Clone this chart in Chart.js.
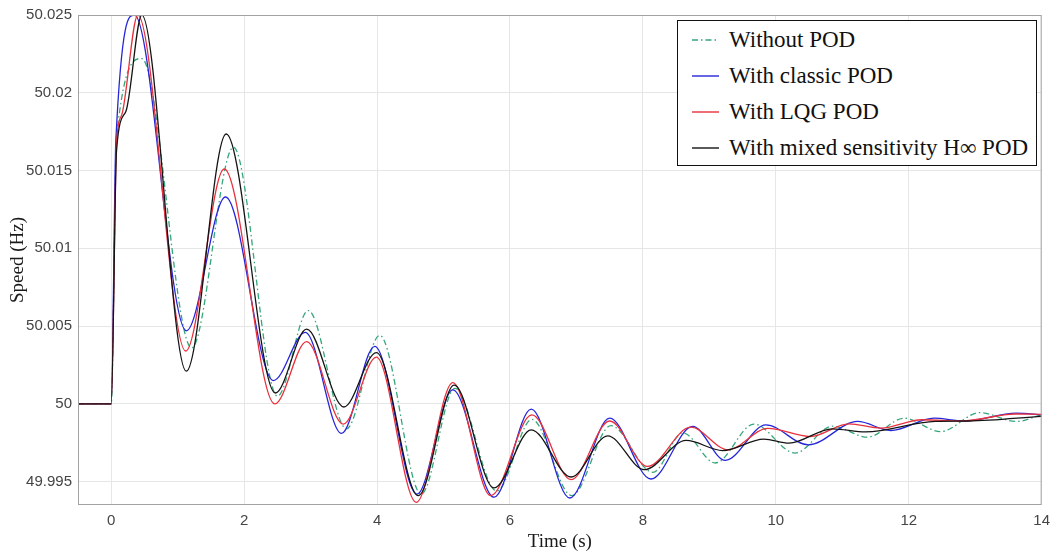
<!DOCTYPE html>
<html lang="en">
<head>
    <meta charset="UTF-8">
    <title>Speed response</title>
    <script src="https://cdn.jsdelivr.net/npm/chart.js"></script>
    <style>
        body {
            margin: 0;
            padding: 0;
            background-color: #ffffff;
        }
        .wrap {
            position: relative;
            width: 1057px;
            height: 553px;
        }
        .legend {
            position: absolute;
            left: 677px;
            top: 20px;
            width: 358px;
            height: 144px;
            border: 1.5px solid #111;
            background: #fff;
            font-family: "Liberation Serif", "Times New Roman", serif;
            font-size: 23px;
            color: #111;
        }
        .legend .row {
            position: absolute;
            left: 14px;
            height: 26px;
            line-height: 26px;
            white-space: nowrap;
        }
        .legend svg {
            vertical-align: middle;
            margin-right: 10px;
            margin-top: -4px;
        }
    </style>
</head>
<body>
    <div class="wrap">
        <canvas id="speedChart"></canvas>
        <div class="legend" id="legend"></div>
    </div>

    <script>
        // values (time in s, speed in Hz)
        const seriesNames = ['Without POD', 'With classic POD', 'With LQG POD', 'With mixed sensitivity H\u221e POD'];

        const tWithout = [-0.5, 0, 0.08, 0.46, 1.21, 1.84, 2.5, 2.965, 3.54, 4.04, 4.665, 5.17, 5.8, 6.33, 6.93, 7.52, 8.15, 8.6, 9.09, 9.67, 10.29, 10.85, 11.38, 11.93, 12.48, 13.07, 13.62, 14];
        const vWithout = [50, 50, 50.0172, 50.0222, 50.0036, 50.0165, 50.0005, 50.006, 49.9984, 50.0044, 49.9942, 50.001, 49.9944, 49.999, 49.9941, 49.9986, 49.9956, 49.99814, 49.9962, 49.9987, 49.99684, 49.99857, 49.99786, 49.99908, 49.99822, 49.99944, 49.99887, 49.9993];

        const tClassic = [-0.5, 0, 0.07, 0.35, 1.13, 1.72, 2.44, 2.92, 3.465, 3.965, 4.6, 5.14, 5.76, 6.32, 6.9, 7.5, 8.12, 8.75, 9.24, 9.85, 10.49, 11.23, 11.73, 12.38, 12.83, 13.62, 14];
        const vClassic = [50, 50, 50.017, 50.025, 50.0047, 50.0133, 50.0015, 50.0046, 49.9981, 50.0037, 49.9942, 50.0009, 49.994, 49.99966, 49.99395, 49.99908, 49.99517, 49.99855, 49.99637, 49.99865, 49.99737, 49.99887, 49.99829, 49.99908, 49.9989, 49.9994, 49.9993];

        const tLqg = [-0.5, 0, 0.08, 0.16, 0.4, 1.12, 1.7, 2.46, 2.94, 3.49, 3.99, 4.59, 5.14, 5.71, 6.33, 6.92, 7.5, 8.07, 8.72, 9.28, 9.88, 10.52, 11.1, 11.58, 12.2, 12.8, 13.6, 14];
        const vLqg = [50, 50, 50.0168, 50.0186, 50.025, 50.0034, 50.0151, 50.0, 50.004, 49.9987, 50.003, 49.99367, 50.00137, 49.9941, 49.9993, 49.99513, 49.9989, 49.99598, 49.9985, 49.99705, 49.99843, 49.9979, 49.99872, 49.99844, 49.99898, 49.9989, 49.99935, 49.99933];

        const tHinf = [-0.5, 0, 0.08, 0.22, 0.46, 1.13, 1.73, 2.47, 2.94, 3.5, 3.99, 4.62, 5.16, 5.76, 6.32, 6.92, 7.47, 8.02, 8.65, 9.2, 9.82, 10.2, 10.85, 11.35, 12.4, 12.9, 14];
        const vHinf = [50, 50, 50.0163, 50.0188, 50.025, 50.0021, 50.01735, 50.0007, 50.0048, 49.9998, 50.0033, 49.9941, 50.0012, 49.9946, 49.99833, 49.9953, 49.99795, 49.99577, 49.99765, 49.997, 49.99774, 49.99748, 49.9984, 49.9982, 49.99888, 49.9989, 49.9992];

        const xTicks = [0, 2, 4, 6, 8, 10, 12, 14];
        const yTicks = [49.995, 50, 50.005, 50.01, 50.015, 50.02, 50.025];

        const colors = ['#35a77a', '#2626d9', '#e8313c', '#141414'];
        const dashes = [[6, 3, 1.5, 3], [], [], []];

        function toPoints(ts, vs) {
            return ts.map((t, i) => ({ x: t, y: vs[i] }));
        }

        const allData = [
            toPoints(tWithout, vWithout),
            toPoints(tClassic, vClassic),
            toPoints(tLqg, vLqg),
            toPoints(tHinf, vHinf)
        ];

        // box round the plot area, like the matlab axes
        const frame = {
            id: 'frame',
            afterDraw(chart) {
                const a = chart.chartArea;
                const ctx = chart.ctx;
                ctx.save();
                ctx.strokeStyle = '#a3a3a3';
                ctx.lineWidth = 1;
                ctx.strokeRect(a.left + 0.5, a.top + 0.5, a.right - a.left - 1, a.bottom - a.top - 1);
                ctx.restore();
            }
        };

        new Chart(document.getElementById('speedChart'), {
            type: 'line',
            data: {
                datasets: allData.map((pts, i) => ({
                    label: seriesNames[i],
                    data: pts,
                    borderColor: colors[i],
                    borderWidth: 1.3,
                    borderDash: dashes[i],
                    pointRadius: 0,
                    fill: false,
                    cubicInterpolationMode: 'monotone',
                    order: 4 - i
                }))
            },
            options: {
                responsive: true,
                maintainAspectRatio: false,
                animation: false,
                layout: { padding: { top: 14, right: 10, left: 0, bottom: 0 } },
                plugins: {
                    legend: { display: false },
                    tooltip: { enabled: false }
                },
                scales: {
                    x: {
                        type: 'linear',
                        min: -0.5,
                        max: 14,
                        afterBuildTicks: s => { s.ticks = xTicks.map(v => ({ value: v })); },
                        afterFit: s => { s.height = 48; },
                        grid: { color: '#e6e6e6', drawTicks: false },
                        border: { display: false },
                        ticks: {
                            padding: 7,
                            color: '#454545',
                            font: { family: 'Liberation Sans', size: 15 }
                        },
                        title: {
                            display: true,
                            text: 'Time (s)',
                            color: '#1a1a1a',
                            padding: { top: 0, bottom: 0 },
                            font: { family: 'Liberation Serif', size: 19 }
                        }
                    },
                    y: {
                        min: 49.9935,
                        max: 50.025,
                        afterBuildTicks: s => { s.ticks = yTicks.map(v => ({ value: v })); },
                        afterFit: s => { s.width = 78; },
                        grid: { color: '#e6e6e6', drawTicks: false },
                        border: { display: false },
                        ticks: {
                            padding: 6,
                            color: '#454545',
                            font: { family: 'Liberation Sans', size: 15 },
                            callback: v => String(Number(v.toFixed(3)))
                        },
                        title: {
                            display: true,
                            text: 'Speed (Hz)',
                            color: '#1a1a1a',
                            padding: { top: 7, bottom: 0 },
                            font: { family: 'Liberation Serif', size: 19 }
                        }
                    }
                }
            },
            plugins: [frame]
        });

        // legend box drawn as html so the text stays text
        const legend = document.getElementById('legend');
        seriesNames.forEach((name, i) => {
            const row = document.createElement('div');
            row.className = 'row';
            row.style.top = (6 + 36 * i) + 'px';
            const dash = dashes[i].length ? ` stroke-dasharray="${dashes[i].join(',')}"` : '';
            row.innerHTML = `<svg width="27" height="10"><line x1="0" y1="5" x2="27" y2="5" stroke="${colors[i]}" stroke-width="1.4"${dash}/></svg>${name}`;
            legend.appendChild(row);
        });
    </script>
</body>
</html>
